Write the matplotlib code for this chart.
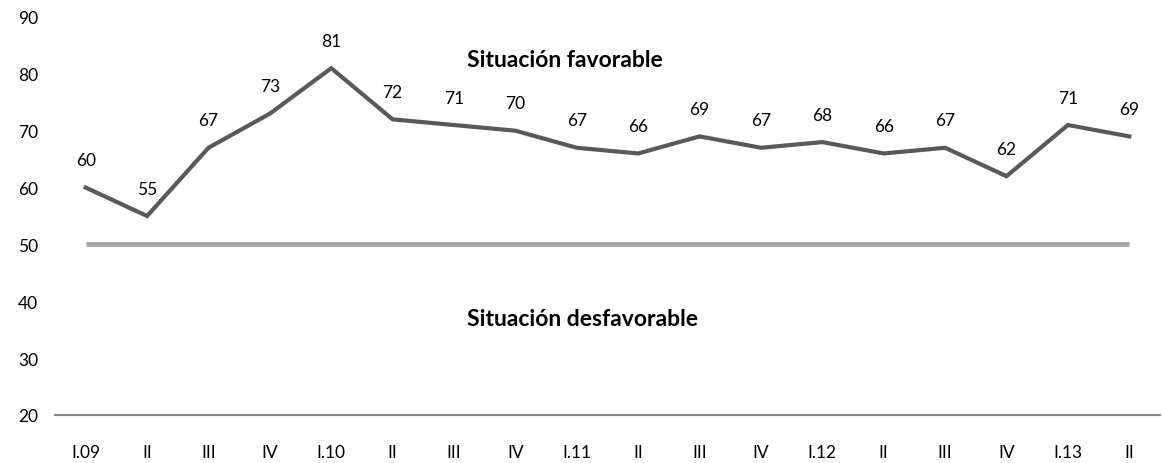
import numpy as np
import matplotlib.pyplot as plt

plt.rcParams['font.family'] = ['Lato', 'DejaVu Sans']

# Índice trimestral vs umbral de 50
trimestres = ['I.09', 'II', 'III', 'IV', 'I.10', 'II', 'III', 'IV', 'I.11', 'II',
              'III', 'IV', 'I.12', 'II', 'III', 'IV', 'I.13', 'II']
valores = [60, 55, 67, 73, 81, 72, 71, 70, 67, 66, 69, 67, 68, 66, 67, 62, 71, 69]
umbral = [50] * len(trimestres)

x = np.arange(len(trimestres))

fig = plt.figure(figsize=(11.63, 4.64), dpi=100)
ax = fig.add_axes([55/1163, 1 - 416/464, 1105/1163, (416 - 18)/464])

ax.plot(x, umbral, color='#A6A6A6', linewidth=3.5, solid_capstyle='butt')
ax.plot(x, valores, color='#595959', linewidth=3, solid_joinstyle='miter')

for xi, v in zip(x, valores):
    ax.annotate(str(v), (xi, v), xytext=(0, 14), textcoords='offset points',
                ha='center', va='bottom', fontsize=12.5, color='#000000')

ax.text(7.8, 82.6, 'Situación favorable', ha='center', va='center',
        fontsize=16.5, fontweight='bold')
ax.text(8.1, 36.9, 'Situación desfavorable', ha='center', va='center',
        fontsize=16.5, fontweight='bold')

ax.set_xlim(-0.5, len(trimestres) - 0.5)
ax.set_ylim(20, 90)
ax.set_yticks(range(20, 91, 10))
ax.set_xticks(x)
ax.set_xticklabels(trimestres)
ax.tick_params(axis='both', length=0, labelsize=12.5, colors='#000000')
ax.tick_params(axis='x', pad=21)
ax.tick_params(axis='y', pad=12)

for s in ['top', 'right', 'left']:
    ax.spines[s].set_visible(False)
ax.spines['bottom'].set_color('#868686')
ax.spines['bottom'].set_linewidth(1.5)

fig.savefig('out.png', dpi=100)
